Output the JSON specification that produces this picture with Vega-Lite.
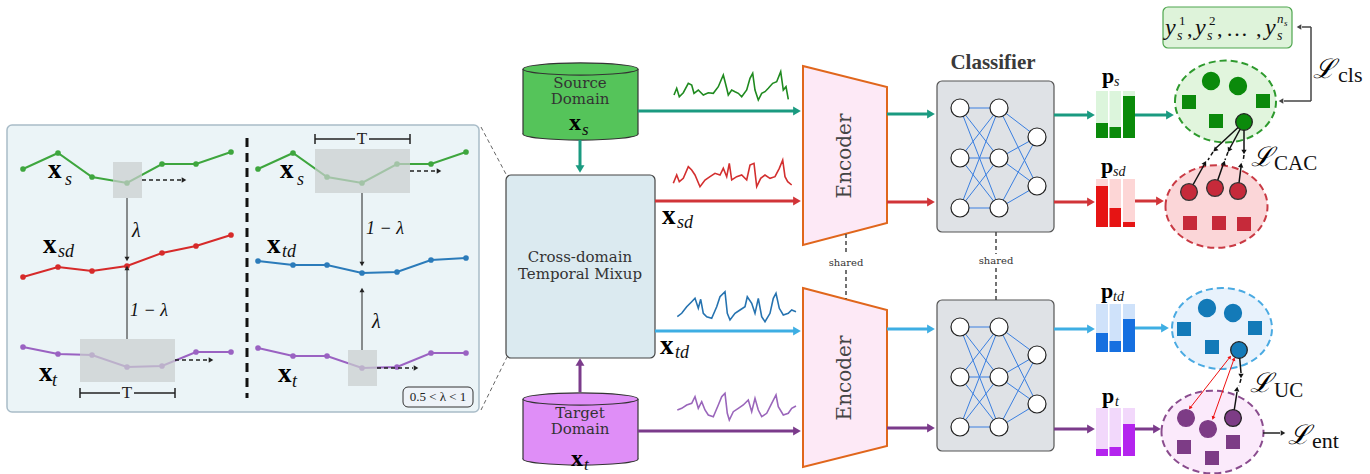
{
"$schema":"https://vega.github.io/schema/vega-lite/v6.json",
"width":1370,"height":474,"padding":0,"autosize":{"type":"none"},"background":"white",
"config":{"view":{"stroke":null}},
"datasets":{
"boxes":[
{"x":7,"y":125,"x2":479,"y2":412,"f":"#ebf4f7","s":"#a9bcc8","w":1.5},
{"x":506,"y":175,"x2":655,"y2":358,"f":"#dbeaf0","s":"#444444","w":1.2},
{"x":937,"y":81,"x2":1054,"y2":232,"f":"#dfe2e6","s":"#555555","w":1.2},
{"x":937,"y":300,"x2":1054,"y2":451,"f":"#dfe2e6","s":"#555555","w":1.2},
{"x":1163,"y":7,"x2":1292,"y2":48,"f":"#def3da","s":"#4ea64e","w":1.2},
{"x":403,"y":387,"x2":473,"y2":407,"f":"#eef3f8","s":"#333333","w":1}],
"series":[
{"s":"a","c":"#3ea63e","x":23,"y":169},{"s":"a","c":"#3ea63e","x":58,"y":153},{"s":"a","c":"#3ea63e","x":92,"y":177},{"s":"a","c":"#3ea63e","x":127,"y":183},{"s":"a","c":"#3ea63e","x":162,"y":164},{"s":"a","c":"#3ea63e","x":196,"y":164},{"s":"a","c":"#3ea63e","x":231,"y":152},
{"s":"b","c":"#d62a2a","x":23,"y":277},{"s":"b","c":"#d62a2a","x":58,"y":267},{"s":"b","c":"#d62a2a","x":92,"y":271},{"s":"b","c":"#d62a2a","x":127,"y":266},{"s":"b","c":"#d62a2a","x":162,"y":253},{"s":"b","c":"#d62a2a","x":196,"y":246},{"s":"b","c":"#d62a2a","x":231,"y":235},
{"s":"c","c":"#9a62c2","x":23,"y":347},{"s":"c","c":"#9a62c2","x":58,"y":354},{"s":"c","c":"#9a62c2","x":92,"y":355},{"s":"c","c":"#9a62c2","x":127,"y":367},{"s":"c","c":"#9a62c2","x":162,"y":366},{"s":"c","c":"#9a62c2","x":196,"y":352},{"s":"c","c":"#9a62c2","x":231,"y":352},
{"s":"d","c":"#3ea63e","x":258,"y":169},{"s":"d","c":"#3ea63e","x":293,"y":153},{"s":"d","c":"#3ea63e","x":327,"y":177},{"s":"d","c":"#3ea63e","x":362,"y":183},{"s":"d","c":"#3ea63e","x":397,"y":164},{"s":"d","c":"#3ea63e","x":431,"y":164},{"s":"d","c":"#3ea63e","x":466,"y":152},
{"s":"e","c":"#2b7bba","x":258,"y":261},{"s":"e","c":"#2b7bba","x":293,"y":265},{"s":"e","c":"#2b7bba","x":327,"y":265},{"s":"e","c":"#2b7bba","x":362,"y":273},{"s":"e","c":"#2b7bba","x":397,"y":272},{"s":"e","c":"#2b7bba","x":431,"y":260},{"s":"e","c":"#2b7bba","x":466,"y":258},
{"s":"f","c":"#9a62c2","x":258,"y":348},{"s":"f","c":"#9a62c2","x":293,"y":356},{"s":"f","c":"#9a62c2","x":327,"y":356},{"s":"f","c":"#9a62c2","x":362,"y":368},{"s":"f","c":"#9a62c2","x":397,"y":367},{"s":"f","c":"#9a62c2","x":431,"y":353},{"s":"f","c":"#9a62c2","x":466,"y":353}],
"hl":[{"x":113,"y":162,"x2":142,"y2":198},{"x":80,"y":339,"x2":175,"y2":382},{"x":315,"y":149,"x2":410,"y2":193},{"x":348,"y":350,"x2":377,"y2":386}],
"sig":[
{"s":"g","c":"#1f8a1f","x":674,"y":95},{"s":"g","c":"#1f8a1f","x":676.7,"y":88.3},{"s":"g","c":"#1f8a1f","x":679.3,"y":96.7},{"s":"g","c":"#1f8a1f","x":683.3,"y":92.7},{"s":"g","c":"#1f8a1f","x":688.3,"y":83.3},{"s":"g","c":"#1f8a1f","x":691.7,"y":85},{"s":"g","c":"#1f8a1f","x":694,"y":93.3},{"s":"g","c":"#1f8a1f","x":698.3,"y":90},{"s":"g","c":"#1f8a1f","x":703.3,"y":95},{"s":"g","c":"#1f8a1f","x":708.3,"y":92.7},{"s":"g","c":"#1f8a1f","x":713.3,"y":93.3},{"s":"g","c":"#1f8a1f","x":718.3,"y":86.7},{"s":"g","c":"#1f8a1f","x":723.3,"y":75},{"s":"g","c":"#1f8a1f","x":726.7,"y":88.3},{"s":"g","c":"#1f8a1f","x":728.3,"y":95},{"s":"g","c":"#1f8a1f","x":731.7,"y":90},{"s":"g","c":"#1f8a1f","x":735,"y":91.7},{"s":"g","c":"#1f8a1f","x":738.3,"y":93.3},{"s":"g","c":"#1f8a1f","x":741.7,"y":96.7},{"s":"g","c":"#1f8a1f","x":746.7,"y":90},{"s":"g","c":"#1f8a1f","x":750,"y":78.3},{"s":"g","c":"#1f8a1f","x":752.7,"y":73.3},{"s":"g","c":"#1f8a1f","x":755,"y":90},{"s":"g","c":"#1f8a1f","x":758.3,"y":100},{"s":"g","c":"#1f8a1f","x":761.7,"y":93.3},{"s":"g","c":"#1f8a1f","x":765,"y":91.7},{"s":"g","c":"#1f8a1f","x":768.3,"y":88.3},{"s":"g","c":"#1f8a1f","x":772.7,"y":83.3},{"s":"g","c":"#1f8a1f","x":776.7,"y":81.7},{"s":"g","c":"#1f8a1f","x":780.7,"y":71.7},{"s":"g","c":"#1f8a1f","x":783.3,"y":90},{"s":"g","c":"#1f8a1f","x":786,"y":86.7},{"s":"g","c":"#1f8a1f","x":788.3,"y":99.3},
{"s":"r","c":"#d32f2f","x":673.3,"y":183.3},{"s":"r","c":"#d32f2f","x":676.7,"y":175},{"s":"r","c":"#d32f2f","x":679.3,"y":181.7},{"s":"r","c":"#d32f2f","x":683.3,"y":178.3},{"s":"r","c":"#d32f2f","x":688.3,"y":166.7},{"s":"r","c":"#d32f2f","x":691.7,"y":170},{"s":"r","c":"#d32f2f","x":695,"y":175},{"s":"r","c":"#d32f2f","x":700,"y":186.7},{"s":"r","c":"#d32f2f","x":705,"y":180},{"s":"r","c":"#d32f2f","x":710,"y":176.7},{"s":"r","c":"#d32f2f","x":715,"y":173.3},{"s":"r","c":"#d32f2f","x":720,"y":175},{"s":"r","c":"#d32f2f","x":723.3,"y":168.3},{"s":"r","c":"#d32f2f","x":726.7,"y":176.7},{"s":"r","c":"#d32f2f","x":729.3,"y":163.3},{"s":"r","c":"#d32f2f","x":731.7,"y":180},{"s":"r","c":"#d32f2f","x":736.7,"y":176.7},{"s":"r","c":"#d32f2f","x":741.7,"y":175},{"s":"r","c":"#d32f2f","x":746.7,"y":180},{"s":"r","c":"#d32f2f","x":750,"y":165},{"s":"r","c":"#d32f2f","x":754,"y":163.3},{"s":"r","c":"#d32f2f","x":756.7,"y":186.7},{"s":"r","c":"#d32f2f","x":760.7,"y":178.3},{"s":"r","c":"#d32f2f","x":765,"y":175},{"s":"r","c":"#d32f2f","x":770,"y":178.3},{"s":"r","c":"#d32f2f","x":775,"y":176.7},{"s":"r","c":"#d32f2f","x":779.3,"y":168.3},{"s":"r","c":"#d32f2f","x":782.7,"y":160},{"s":"r","c":"#d32f2f","x":785,"y":176.7},{"s":"r","c":"#d32f2f","x":787.7,"y":181.7},{"s":"r","c":"#d32f2f","x":791.7,"y":185},
{"s":"b","c":"#2673b0","x":677.3,"y":316.7},{"s":"b","c":"#2673b0","x":681.7,"y":313.3},{"s":"b","c":"#2673b0","x":686.7,"y":306.7},{"s":"b","c":"#2673b0","x":691.7,"y":301.7},{"s":"b","c":"#2673b0","x":695,"y":298.3},{"s":"b","c":"#2673b0","x":698.3,"y":308.3},{"s":"b","c":"#2673b0","x":700.7,"y":299.3},{"s":"b","c":"#2673b0","x":703.3,"y":313.3},{"s":"b","c":"#2673b0","x":706.7,"y":316.7},{"s":"b","c":"#2673b0","x":711.7,"y":318.3},{"s":"b","c":"#2673b0","x":716.7,"y":306.7},{"s":"b","c":"#2673b0","x":720,"y":296.7},{"s":"b","c":"#2673b0","x":725,"y":291.7},{"s":"b","c":"#2673b0","x":727.3,"y":313.3},{"s":"b","c":"#2673b0","x":730,"y":320},{"s":"b","c":"#2673b0","x":735,"y":313.3},{"s":"b","c":"#2673b0","x":740,"y":310},{"s":"b","c":"#2673b0","x":745,"y":306.7},{"s":"b","c":"#2673b0","x":747.3,"y":296.7},{"s":"b","c":"#2673b0","x":751.7,"y":303.3},{"s":"b","c":"#2673b0","x":755,"y":313.3},{"s":"b","c":"#2673b0","x":758.3,"y":298.3},{"s":"b","c":"#2673b0","x":761.7,"y":316.7},{"s":"b","c":"#2673b0","x":765,"y":321.7},{"s":"b","c":"#2673b0","x":770,"y":313.3},{"s":"b","c":"#2673b0","x":773.3,"y":298.3},{"s":"b","c":"#2673b0","x":776,"y":293.3},{"s":"b","c":"#2673b0","x":779.3,"y":308.3},{"s":"b","c":"#2673b0","x":783.3,"y":315},{"s":"b","c":"#2673b0","x":788.3,"y":313.3},{"s":"b","c":"#2673b0","x":791.7,"y":310},{"s":"b","c":"#2673b0","x":796,"y":311.7},
{"s":"p","c":"#9a66bb","x":677.3,"y":410},{"s":"p","c":"#9a66bb","x":681.7,"y":408.3},{"s":"p","c":"#9a66bb","x":686.7,"y":405},{"s":"p","c":"#9a66bb","x":691.7,"y":403.3},{"s":"p","c":"#9a66bb","x":695,"y":396.7},{"s":"p","c":"#9a66bb","x":698.3,"y":408.3},{"s":"p","c":"#9a66bb","x":701.7,"y":401.7},{"s":"p","c":"#9a66bb","x":705,"y":410},{"s":"p","c":"#9a66bb","x":708.3,"y":415},{"s":"p","c":"#9a66bb","x":713.3,"y":416.7},{"s":"p","c":"#9a66bb","x":718.3,"y":405},{"s":"p","c":"#9a66bb","x":721.7,"y":396.7},{"s":"p","c":"#9a66bb","x":725,"y":393.3},{"s":"p","c":"#9a66bb","x":727.3,"y":413.3},{"s":"p","c":"#9a66bb","x":729.3,"y":420},{"s":"p","c":"#9a66bb","x":733.3,"y":411.7},{"s":"p","c":"#9a66bb","x":738.3,"y":408.3},{"s":"p","c":"#9a66bb","x":743.3,"y":405},{"s":"p","c":"#9a66bb","x":748.3,"y":400},{"s":"p","c":"#9a66bb","x":751.7,"y":411.7},{"s":"p","c":"#9a66bb","x":755,"y":398.3},{"s":"p","c":"#9a66bb","x":758.3,"y":410},{"s":"p","c":"#9a66bb","x":761.7,"y":416.7},{"s":"p","c":"#9a66bb","x":766.7,"y":413.3},{"s":"p","c":"#9a66bb","x":771.7,"y":403.3},{"s":"p","c":"#9a66bb","x":776,"y":395},{"s":"p","c":"#9a66bb","x":778.3,"y":406.7},{"s":"p","c":"#9a66bb","x":783.3,"y":415},{"s":"p","c":"#9a66bb","x":788.3,"y":413.3},{"s":"p","c":"#9a66bb","x":791.7,"y":408.3},{"s":"p","c":"#9a66bb","x":796,"y":406}],
"lines":[
{"x":638,"y":111,"x2":794,"y2":111,"c":"#1a9a80","w":3},
{"x":580,"y":140,"x2":580,"y2":166,"c":"#1a9a80","w":3},
{"x":580,"y":392,"x2":580,"y2":365,"c":"#7b3b8b","w":3},
{"x":655,"y":201,"x2":794,"y2":201,"c":"#d13438","w":3},
{"x":655,"y":331,"x2":794,"y2":331,"c":"#3eaee3","w":3},
{"x":638,"y":431,"x2":794,"y2":431,"c":"#7b3b8b","w":3},
{"x":887,"y":114,"x2":928,"y2":114,"c":"#1a9a80","w":3},
{"x":887,"y":202,"x2":928,"y2":202,"c":"#d13438","w":3},
{"x":887,"y":329,"x2":928,"y2":329,"c":"#3eaee3","w":3},
{"x":887,"y":428,"x2":928,"y2":428,"c":"#7b3b8b","w":3},
{"x":1054,"y":115,"x2":1088,"y2":115,"c":"#1a9a80","w":3},
{"x":1054,"y":202,"x2":1088,"y2":202,"c":"#d13438","w":3},
{"x":1054,"y":329,"x2":1088,"y2":329,"c":"#3eaee3","w":3},
{"x":1054,"y":429,"x2":1088,"y2":429,"c":"#7b3b8b","w":3},
{"x":1135,"y":115,"x2":1167,"y2":115,"c":"#1a9a80","w":3},
{"x":1135,"y":201,"x2":1157,"y2":201,"c":"#d13438","w":3},
{"x":1135,"y":328,"x2":1162,"y2":328,"c":"#3eaee3","w":3},
{"x":1135,"y":429,"x2":1154,"y2":429,"c":"#7b3b8b","w":3},
{"x":127,"y":198,"x2":127,"y2":257,"c":"#222222","w":1},
{"x":127,"y":339,"x2":127,"y2":270,"c":"#222222","w":1},
{"x":362,"y":193,"x2":362,"y2":262,"c":"#222222","w":1},
{"x":362,"y":350,"x2":362,"y2":292,"c":"#222222","w":1},
{"x":80,"y":393,"x2":120,"y2":393,"c":"#222222","w":1.5},
{"x":134,"y":393,"x2":175,"y2":393,"c":"#222222","w":1.5},
{"x":80,"y":388,"x2":80,"y2":398,"c":"#222222","w":1.5},
{"x":175,"y":388,"x2":175,"y2":398,"c":"#222222","w":1.5},
{"x":315,"y":139,"x2":355,"y2":139,"c":"#222222","w":1.5},
{"x":369,"y":139,"x2":410,"y2":139,"c":"#222222","w":1.5},
{"x":315,"y":134,"x2":315,"y2":144,"c":"#222222","w":1.5},
{"x":410,"y":134,"x2":410,"y2":144,"c":"#222222","w":1.5},
{"x":1284,"y":101,"x2":1311,"y2":101,"c":"#444444","w":1.5},
{"x":1311,"y":101,"x2":1311,"y2":27,"c":"#444444","w":1.5},
{"x":1311,"y":27,"x2":1302,"y2":27,"c":"#444444","w":1.5},
{"x":1244,"y":122,"x2":1216,"y2":148,"c":"#111111","w":1.5},
{"x":1244,"y":122,"x2":1230,"y2":148,"c":"#111111","w":1.5},
{"x":1244,"y":122,"x2":1244,"y2":150,"c":"#111111","w":1.5},
{"x":1189,"y":192,"x2":1204,"y2":165,"c":"#111111","w":1.5},
{"x":1215,"y":188,"x2":1223,"y2":165,"c":"#111111","w":1.5},
{"x":1238,"y":191,"x2":1241,"y2":167,"c":"#111111","w":1.5},
{"x":1239,"y":350,"x2":1241,"y2":373,"c":"#111111","w":1.5},
{"x":1233,"y":418,"x2":1237,"y2":392,"c":"#111111","w":1.5},
{"x":1230,"y":357,"x2":1190,"y2":408,"c":"#ee1111","w":1},
{"x":1234,"y":359,"x2":1213,"y2":418,"c":"#ee1111","w":1},
{"x":1263,"y":433,"x2":1280,"y2":433,"c":"#222222","w":1.5}],
"dl":[
{"x":142,"y":180,"x2":181,"y2":180,"c":"#222222","w":1.5},
{"x":175,"y":360,"x2":208,"y2":360,"c":"#222222","w":1.5},
{"x":410,"y":171,"x2":436,"y2":171,"c":"#222222","w":1.5},
{"x":377,"y":368,"x2":413,"y2":368,"c":"#222222","w":1.5},
{"x":481,"y":127,"x2":507,"y2":176,"c":"#666666","w":1},
{"x":481,"y":410,"x2":507,"y2":357,"c":"#666666","w":1},
{"x":846,"y":234,"x2":846,"y2":255,"c":"#444444","w":1.5},
{"x":846,"y":270,"x2":846,"y2":299,"c":"#444444","w":1.5},
{"x":996,"y":232,"x2":996,"y2":254,"c":"#444444","w":1.5},
{"x":996,"y":268,"x2":996,"y2":300,"c":"#444444","w":1.5},
{"x":1213,"y":152,"x2":1208,"y2":160,"c":"#111111","w":1.5},
{"x":1228,"y":152,"x2":1225,"y2":160,"c":"#111111","w":1.5},
{"x":1244,"y":155,"x2":1243,"y2":162,"c":"#111111","w":1.5},
{"x":1241,"y":379,"x2":1239,"y2":386,"c":"#111111","w":1.5}],
"div":[{"x":247,"y":138,"x2":247,"y2":398}],
"heads":[
{"x":797,"y":111,"a":90,"c":"#1a9a80","z":80},{"x":580,"y":169,"a":180,"c":"#1a9a80","z":80},{"x":580,"y":362,"a":0,"c":"#7b3b8b","z":80},
{"x":797,"y":201,"a":90,"c":"#d13438","z":80},{"x":797,"y":331,"a":90,"c":"#3eaee3","z":80},{"x":797,"y":431,"a":90,"c":"#7b3b8b","z":80},
{"x":931,"y":114,"a":90,"c":"#1a9a80","z":80},{"x":931,"y":202,"a":90,"c":"#d13438","z":80},{"x":931,"y":329,"a":90,"c":"#3eaee3","z":80},{"x":931,"y":428,"a":90,"c":"#7b3b8b","z":80},
{"x":1091,"y":115,"a":90,"c":"#1a9a80","z":80},{"x":1091,"y":202,"a":90,"c":"#d13438","z":80},{"x":1091,"y":329,"a":90,"c":"#3eaee3","z":80},{"x":1091,"y":429,"a":90,"c":"#7b3b8b","z":80},
{"x":1170,"y":115,"a":90,"c":"#1a9a80","z":80},{"x":1160,"y":201,"a":90,"c":"#d13438","z":80},{"x":1165,"y":328,"a":90,"c":"#3eaee3","z":80},{"x":1157,"y":429,"a":90,"c":"#7b3b8b","z":80},
{"x":127,"y":259,"a":180,"c":"#222222","z":25},{"x":127,"y":268,"a":0,"c":"#222222","z":25},{"x":362,"y":264,"a":180,"c":"#222222","z":25},{"x":362,"y":290,"a":0,"c":"#222222","z":25},
{"x":184,"y":180,"a":90,"c":"#222222","z":28},{"x":211,"y":360,"a":90,"c":"#222222","z":28},{"x":439,"y":171,"a":90,"c":"#222222","z":28},{"x":416,"y":368,"a":90,"c":"#222222","z":28},
{"x":1299,"y":27,"a":270,"c":"#444444","z":28},{"x":1281,"y":101,"a":270,"c":"#444444","z":28},
{"x":1215,"y":150,"a":226,"c":"#111111","z":28},{"x":1229,"y":150,"a":208,"c":"#111111","z":28},{"x":1244,"y":152,"a":180,"c":"#111111","z":28},
{"x":1205,"y":163,"a":29,"c":"#111111","z":28},{"x":1224,"y":163,"a":20,"c":"#111111","z":28},{"x":1241,"y":165,"a":8,"c":"#111111","z":28},
{"x":1241,"y":376,"a":180,"c":"#111111","z":28},{"x":1237,"y":389,"a":8,"c":"#111111","z":28},
{"x":1190,"y":408,"a":218,"c":"#ee1111","z":16},{"x":1230,"y":357,"a":38,"c":"#ee1111","z":16},{"x":1213,"y":418,"a":200,"c":"#ee1111","z":16},{"x":1234,"y":359,"a":20,"c":"#ee1111","z":16},
{"x":1283,"y":433,"a":90,"c":"#222222","z":28}],
"cylB":[{"x":580.5,"y":134,"f":"#55c45a"},{"x":580.5,"y":459,"f":"#df8ef7"}],
"cylR":[{"x":523,"y":69,"x2":638,"y2":134,"f":"#55c45a"},{"x":523,"y":399,"x2":638,"y2":459,"f":"#df8ef7"}],
"cylS":[{"x":523,"y":69,"x2":523,"y2":134},{"x":638,"y":69,"x2":638,"y2":134},{"x":523,"y":399,"x2":523,"y2":459},{"x":638,"y":399,"x2":638,"y2":459}],
"cylT":[{"x":580.5,"y":69,"f":"#55c45a"},{"x":580.5,"y":399,"f":"#df8ef7"}],
"enc":[{"g":"a","x":803,"y":66,"y2":245},{"g":"a","x":887,"y":87,"y2":223},{"g":"b","x":803,"y":288,"y2":467},{"g":"b","x":887,"y":310,"y2":446}],
"edges":[
{"x":960,"y":108,"x2":999,"y2":108},{"x":960,"y":108,"x2":999,"y2":158},{"x":960,"y":108,"x2":999,"y2":208},
{"x":960,"y":158,"x2":999,"y2":108},{"x":960,"y":158,"x2":999,"y2":158},{"x":960,"y":158,"x2":999,"y2":208},
{"x":960,"y":208,"x2":999,"y2":108},{"x":960,"y":208,"x2":999,"y2":158},{"x":960,"y":208,"x2":999,"y2":208},
{"x":999,"y":108,"x2":1037,"y2":137},{"x":999,"y":108,"x2":1037,"y2":186},{"x":999,"y":158,"x2":1037,"y2":137},{"x":999,"y":158,"x2":1037,"y2":186},{"x":999,"y":208,"x2":1037,"y2":137},{"x":999,"y":208,"x2":1037,"y2":186},
{"x":960,"y":327,"x2":999,"y2":327},{"x":960,"y":327,"x2":999,"y2":377},{"x":960,"y":327,"x2":999,"y2":427},
{"x":960,"y":377,"x2":999,"y2":327},{"x":960,"y":377,"x2":999,"y2":377},{"x":960,"y":377,"x2":999,"y2":427},
{"x":960,"y":427,"x2":999,"y2":327},{"x":960,"y":427,"x2":999,"y2":377},{"x":960,"y":427,"x2":999,"y2":427},
{"x":999,"y":327,"x2":1037,"y2":355},{"x":999,"y":327,"x2":1037,"y2":404},{"x":999,"y":377,"x2":1037,"y2":355},{"x":999,"y":377,"x2":1037,"y2":404},{"x":999,"y":427,"x2":1037,"y2":355},{"x":999,"y":427,"x2":1037,"y2":404}],
"nodes":[
{"x":960,"y":108},{"x":960,"y":158},{"x":960,"y":208},{"x":999,"y":108},{"x":999,"y":158},{"x":999,"y":208},{"x":1037,"y":137},{"x":1037,"y":186},
{"x":960,"y":327},{"x":960,"y":377},{"x":960,"y":427},{"x":999,"y":327},{"x":999,"y":377},{"x":999,"y":427},{"x":1037,"y":355},{"x":1037,"y":404}],
"bars":[
{"x":1096,"x2":1108,"y":91,"y2":138,"f":"#dcf5dc"},{"x":1109.5,"x2":1121,"y":91,"y2":138,"f":"#dcf5dc"},{"x":1123,"x2":1135,"y":91,"y2":138,"f":"#dcf5dc"},
{"x":1096,"x2":1108,"y":123,"y2":138,"f":"#0a8a0a"},{"x":1109.5,"x2":1121,"y":127,"y2":138,"f":"#0a8a0a"},{"x":1123,"x2":1135,"y":96,"y2":138,"f":"#0a8a0a"},
{"x":1096,"x2":1108,"y":179,"y2":227,"f":"#fdd6d6"},{"x":1109.5,"x2":1121,"y":179,"y2":227,"f":"#fdd6d6"},{"x":1123,"x2":1135,"y":179,"y2":227,"f":"#fdd6d6"},
{"x":1096,"x2":1108,"y":186,"y2":227,"f":"#e61414"},{"x":1109.5,"x2":1121,"y":208,"y2":227,"f":"#e61414"},{"x":1123,"x2":1135,"y":222,"y2":227,"f":"#e61414"},
{"x":1096,"x2":1108,"y":304,"y2":352,"f":"#cfe2fa"},{"x":1109.5,"x2":1121,"y":304,"y2":352,"f":"#cfe2fa"},{"x":1123,"x2":1135,"y":304,"y2":352,"f":"#cfe2fa"},
{"x":1096,"x2":1108,"y":333,"y2":352,"f":"#1670e0"},{"x":1109.5,"x2":1121,"y":341,"y2":352,"f":"#1670e0"},{"x":1123,"x2":1135,"y":319,"y2":352,"f":"#1670e0"},
{"x":1096,"x2":1108,"y":408,"y2":456,"f":"#f2d8fb"},{"x":1109.5,"x2":1121,"y":408,"y2":456,"f":"#f2d8fb"},{"x":1123,"x2":1135,"y":408,"y2":456,"f":"#f2d8fb"},
{"x":1096,"x2":1108,"y":449,"y2":456,"f":"#b424ee"},{"x":1109.5,"x2":1121,"y":447,"y2":456,"f":"#b424ee"},{"x":1123,"x2":1135,"y":424,"y2":456,"f":"#b424ee"}],
"clus":[{"x":1225.5,"y":101.5,"f":"#e1f5dd","s":"#2e9a2e","z":10201},{"x":1216.5,"y":206.5,"f":"#fbd6d8","s":"#c93a44","z":10404},{"x":1222,"y":328.5,"f":"#e8f2fc","s":"#4aaae2","z":10000},{"x":1212.5,"y":432,"f":"#fbeafb","s":"#8a4c8e","z":10404}],
"ccirc":[
{"x":1211,"y":81,"f":"#0b8a0b","s":"#0b8a0b","z":289},{"x":1238,"y":86,"f":"#0b8a0b","s":"#0b8a0b","z":289},{"x":1244,"y":122,"f":"#0b8a0b","s":"#222222","z":276},
{"x":1189,"y":192,"f":"#c62a3a","s":"#333333","z":280},{"x":1215,"y":188,"f":"#c62a3a","s":"#333333","z":280},{"x":1238,"y":191,"f":"#c62a3a","s":"#333333","z":280},
{"x":1207,"y":308,"f":"#137ab8","s":"#137ab8","z":289},{"x":1233,"y":313,"f":"#137ab8","s":"#137ab8","z":289},{"x":1239,"y":350,"f":"#137ab8","s":"#222222","z":276},
{"x":1186,"y":418,"f":"#7d3c86","s":"#7d3c86","z":280},{"x":1208,"y":429,"f":"#7d3c86","s":"#7d3c86","z":280},{"x":1233,"y":418,"f":"#7d3c86","s":"#222222","z":280}],
"csq":[
{"x":1189,"y":102,"f":"#0b8a0b"},{"x":1263,"y":101,"f":"#0b8a0b"},{"x":1216,"y":121,"f":"#0b8a0b"},
{"x":1190,"y":223,"f":"#c62a3a"},{"x":1219,"y":223,"f":"#c62a3a"},{"x":1244,"y":224,"f":"#c62a3a"},
{"x":1184,"y":329,"f":"#137ab8"},{"x":1255,"y":328,"f":"#137ab8"},{"x":1212,"y":347,"f":"#137ab8"},
{"x":1184,"y":447,"f":"#7d3c86"},{"x":1212,"y":458,"f":"#7d3c86"},{"x":1233,"y":442,"f":"#7d3c86"}],
"tc":[
{"t":"Source","x":580,"y":83,"z":15},{"t":"Domain","x":580,"y":99,"z":15},{"t":"Target","x":580,"y":413,"z":15},{"t":"Domain","x":580,"y":429,"z":15},
{"t":"Cross-domain","x":580,"y":257,"z":15},{"t":"Temporal Mixup","x":580,"y":274,"z":15},{"t":"shared","x":846,"y":263,"z":10},{"t":"shared","x":996,"y":261,"z":10}],
"tm":[{"t":"T","x":127,"y":393,"z":17},{"t":"T","x":362,"y":139,"z":17},{"t":"0.5 < λ < 1","x":438,"y":397,"z":13}],
"tenc":[{"t":"Encoder","x":845,"y":156},{"t":"Encoder","x":845,"y":378}],
"tcls":[{"t":"Classifier","x":993,"y":63}],
"tb":[
{"t":"x","x":48,"y":178,"z":27},{"t":"x","x":280,"y":178,"z":27},{"t":"x","x":43,"y":253,"z":27},{"t":"x","x":267,"y":253,"z":27},{"t":"x","x":39,"y":381,"z":27},{"t":"x","x":278,"y":382,"z":27},
{"t":"x","x":569,"y":130,"z":24},{"t":"x","x":571,"y":466,"z":24},{"t":"x","x":662,"y":224,"z":27},{"t":"x","x":660,"y":354,"z":27},
{"t":"p","x":1102,"y":83,"z":22},{"t":"p","x":1101,"y":173,"z":22},{"t":"p","x":1101,"y":298,"z":22},{"t":"p","x":1102,"y":403,"z":22}],
"ti":[
{"t":"s","x":582,"y":135,"z":17},{"t":"t","x":584,"y":470,"z":17},
{"t":"s","x":65,"y":185,"z":18},{"t":"s","x":297,"y":185,"z":18},{"t":"sd","x":58,"y":257,"z":18},{"t":"td","x":282,"y":257,"z":18},{"t":"t","x":52,"y":386,"z":18},{"t":"t","x":292,"y":387,"z":18},
{"t":"sd","x":677,"y":228,"z":18},{"t":"td","x":675,"y":358,"z":18},
{"t":"s","x":1114,"y":86,"z":14},{"t":"sd","x":1113,"y":176,"z":14},{"t":"td","x":1113,"y":301,"z":14},{"t":"t","x":1115,"y":406,"z":14},
{"t":"y","x":1165,"y":35,"z":24},{"t":"y","x":1195,"y":35,"z":24},{"t":"y","x":1265,"y":35,"z":24},
{"t":"s","x":1177,"y":40,"z":14},{"t":"s","x":1207,"y":40,"z":14},{"t":"s","x":1277,"y":40,"z":14},
{"t":"n","x":1277,"y":23,"z":13},{"t":"s","x":1284,"y":26,"z":9},
{"t":"λ","x":132,"y":237,"z":20},{"t":"1 − λ","x":130,"y":316,"z":18},{"t":"1 − λ","x":366,"y":234,"z":18},{"t":"λ","x":372,"y":328,"z":20}],
"tr":[
{"t":"1","x":1179,"y":25,"z":13},{"t":"2","x":1209,"y":25,"z":13},{"t":",","x":1187,"y":36,"z":22},{"t":",","x":1217,"y":36,"z":22},{"t":",","x":1256,"y":36,"z":22},{"t":"…","x":1226,"y":36,"z":22},
{"t":"cls","x":1338,"y":82,"z":22},{"t":"CAC","x":1274,"y":170,"z":21},{"t":"UC","x":1274,"y":397,"z":21},{"t":"ent","x":1312,"y":448,"z":22}],
"tL":[{"t":"ℒ","x":1313,"y":78,"z":27},{"t":"ℒ","x":1251,"y":166,"z":27},{"t":"ℒ","x":1250,"y":392,"z":27},{"t":"ℒ","x":1288,"y":444,"z":27}]
},
"encoding":{
"x":{"field":"x","type":"quantitative","scale":{"domain":[0,1370],"nice":false,"zero":false},"axis":null},
"y":{"field":"y","type":"quantitative","scale":{"domain":[0,474],"reverse":true,"nice":false,"zero":false},"axis":null}},
"layer":[
{"data":{"name":"boxes"},"mark":{"type":"rect","cornerRadius":5},"encoding":{"x2":{"field":"x2"},"y2":{"field":"y2"},"fill":{"field":"f","type":"nominal","scale":null},"stroke":{"field":"s","type":"nominal","scale":null},"strokeWidth":{"field":"w","type":"quantitative","scale":null}}},
{"data":{"name":"series"},"mark":{"type":"line","strokeWidth":2},"encoding":{"detail":{"field":"s"},"color":{"field":"c","type":"nominal","scale":null}}},
{"data":{"name":"series"},"mark":{"type":"point","filled":true,"opacity":1,"size":32},"encoding":{"color":{"field":"c","type":"nominal","scale":null}}},
{"data":{"name":"hl"},"mark":{"type":"rect","fill":"#c9cfcf","opacity":0.72},"encoding":{"x2":{"field":"x2"},"y2":{"field":"y2"}}},
{"data":{"name":"div"},"mark":{"type":"rule","color":"#111111","strokeWidth":3,"strokeDash":[9,6]},"encoding":{"x2":{"field":"x2"},"y2":{"field":"y2"}}},
{"data":{"name":"cylB"},"mark":{"type":"point","shape":"M-1,0A1,0.105 0 1,1 1,0A1,0.105 0 1,1 -1,0Z","filled":true,"opacity":1,"size":13225,"stroke":"#333333","strokeWidth":1.2},"encoding":{"fill":{"field":"f","type":"nominal","scale":null}}},
{"data":{"name":"cylR"},"mark":{"type":"rect"},"encoding":{"x2":{"field":"x2"},"y2":{"field":"y2"},"fill":{"field":"f","type":"nominal","scale":null}}},
{"data":{"name":"cylS"},"mark":{"type":"rule","color":"#333333","strokeWidth":1.2},"encoding":{"x2":{"field":"x2"},"y2":{"field":"y2"}}},
{"data":{"name":"cylT"},"mark":{"type":"point","shape":"M-1,0A1,0.105 0 1,1 1,0A1,0.105 0 1,1 -1,0Z","filled":true,"opacity":1,"size":13225,"stroke":"#333333","strokeWidth":1.2},"encoding":{"fill":{"field":"f","type":"nominal","scale":null}}},
{"data":{"name":"enc"},"mark":{"type":"area","fill":"#fde9f6","stroke":"#e0661c","strokeWidth":2,"opacity":1},"encoding":{"y2":{"field":"y2"},"detail":{"field":"g"}}},
{"data":{"name":"sig"},"mark":{"type":"line","strokeWidth":1.6},"encoding":{"detail":{"field":"s"},"color":{"field":"c","type":"nominal","scale":null}}},
{"data":{"name":"edges"},"mark":{"type":"rule","color":"#3a7fe0","strokeWidth":1},"encoding":{"x2":{"field":"x2"},"y2":{"field":"y2"}}},
{"data":{"name":"nodes"},"mark":{"type":"point","shape":"circle","filled":true,"fill":"white","stroke":"#222222","strokeWidth":1.2,"size":324,"opacity":1}},
{"data":{"name":"bars"},"mark":{"type":"rect"},"encoding":{"x2":{"field":"x2"},"y2":{"field":"y2"},"fill":{"field":"f","type":"nominal","scale":null}}},
{"data":{"name":"clus"},"mark":{"type":"point","shape":"M-1,0A1,0.81 0 1,1 1,0A1,0.81 0 1,1 -1,0Z","filled":true,"opacity":1,"strokeWidth":2,"strokeDash":[7,4]},"encoding":{"fill":{"field":"f","type":"nominal","scale":null},"stroke":{"field":"s","type":"nominal","scale":null},"size":{"field":"z","type":"quantitative","scale":null}}},
{"data":{"name":"csq"},"mark":{"type":"point","shape":"square","filled":true,"opacity":1,"size":196},"encoding":{"fill":{"field":"f","type":"nominal","scale":null}}},
{"data":{"name":"dl"},"mark":{"type":"rule","strokeDash":[4,3]},"encoding":{"x2":{"field":"x2"},"y2":{"field":"y2"},"color":{"field":"c","type":"nominal","scale":null},"strokeWidth":{"field":"w","type":"quantitative","scale":null}}},
{"data":{"name":"lines"},"mark":{"type":"rule"},"encoding":{"x2":{"field":"x2"},"y2":{"field":"y2"},"color":{"field":"c","type":"nominal","scale":null},"strokeWidth":{"field":"w","type":"quantitative","scale":null}}},
{"data":{"name":"heads"},"mark":{"type":"point","shape":"triangle-up","filled":true,"opacity":1},"encoding":{"angle":{"field":"a","type":"quantitative","scale":null},"color":{"field":"c","type":"nominal","scale":null},"size":{"field":"z","type":"quantitative","scale":null}}},
{"data":{"name":"ccirc"},"mark":{"type":"point","shape":"circle","filled":true,"opacity":1,"strokeWidth":1.3},"encoding":{"fill":{"field":"f","type":"nominal","scale":null},"stroke":{"field":"s","type":"nominal","scale":null},"size":{"field":"z","type":"quantitative","scale":null}}},
{"data":{"name":"tc"},"mark":{"type":"text","font":"DejaVu Serif","align":"center","baseline":"middle","color":"#333333"},"encoding":{"text":{"field":"t"},"size":{"field":"z","type":"quantitative","scale":null}}},
{"data":{"name":"tm"},"mark":{"type":"text","font":"Liberation Serif","align":"center","baseline":"middle","color":"#222222"},"encoding":{"text":{"field":"t"},"size":{"field":"z","type":"quantitative","scale":null}}},
{"data":{"name":"tenc"},"mark":{"type":"text","font":"DejaVu Serif","align":"center","baseline":"middle","color":"#444444","angle":270,"fontSize":20},"encoding":{"text":{"field":"t"}}},
{"data":{"name":"tcls"},"mark":{"type":"text","font":"Liberation Serif","fontWeight":"bold","align":"center","baseline":"middle","color":"#3a3a3a","fontSize":21},"encoding":{"text":{"field":"t"}}},
{"data":{"name":"tb"},"mark":{"type":"text","font":"Liberation Serif","fontWeight":"bold","align":"left","baseline":"alphabetic","color":"#000000"},"encoding":{"text":{"field":"t"},"size":{"field":"z","type":"quantitative","scale":null}}},
{"data":{"name":"ti"},"mark":{"type":"text","font":"Liberation Serif","fontStyle":"italic","align":"left","baseline":"alphabetic","color":"#111111"},"encoding":{"text":{"field":"t"},"size":{"field":"z","type":"quantitative","scale":null}}},
{"data":{"name":"tr"},"mark":{"type":"text","font":"Liberation Serif","align":"left","baseline":"alphabetic","color":"#111111"},"encoding":{"text":{"field":"t"},"size":{"field":"z","type":"quantitative","scale":null}}},
{"data":{"name":"tL"},"mark":{"type":"text","font":"DejaVu Serif","fontStyle":"italic","align":"left","baseline":"alphabetic","color":"#000000"},"encoding":{"text":{"field":"t"},"size":{"field":"z","type":"quantitative","scale":null}}}
]
}
